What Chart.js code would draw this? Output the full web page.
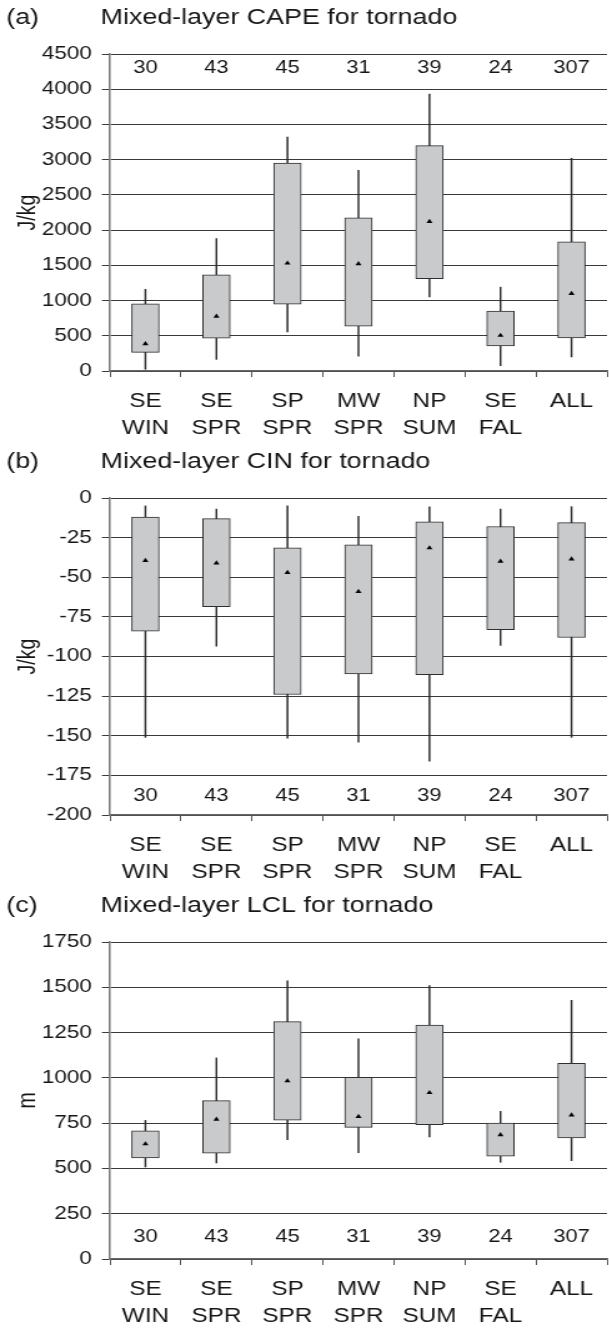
<!DOCTYPE html>
<html>
<head>
<meta charset="utf-8">
<script src="https://cdn.jsdelivr.net/npm/chart.js@4.4.1/dist/chart.umd.min.js"></script>
<style>
  html, body { margin: 0; padding: 0; background: #fff; overflow: hidden; width: 609px; height: 1328px; }
  canvas { position: absolute; left: 0; display: block; }
</style>
</head>
<body>
<!-- the figure is a little wider than tall in its lettering, so each canvas is stretched sideways -->
<canvas id="capeChart" width="490" height="444" style="top:0px;width:612px;height:444px"></canvas>
<canvas id="cinChart" width="490" height="444" style="top:444px;width:612px;height:444px"></canvas>
<canvas id="lclChart" width="490" height="440" style="top:888px;width:612px;height:440px"></canvas>
<script>
const categories = [['SE', 'WIN'], ['SE', 'SPR'], ['SP', 'SPR'], ['MW', 'SPR'], ['NP', 'SUM'], ['SE', 'FAL'], ['ALL']];
const counts = [30, 43, 45, 31, 39, 24, 307];

// Mixed-layer CAPE (J/kg)
const capeMin  = [25, 165, 555, 210, 1050, 75, 200];
const capeQ1   = [265, 465, 950, 635, 1310, 355, 470];
const capeQ3   = [955, 1365, 2950, 2175, 3200, 850, 1835];
const capeMax  = [1160, 1880, 3320, 2850, 3930, 1190, 3020];
const capeMean = [385, 775, 1530, 1520, 2120, 505, 1100];

// Mixed-layer CIN (J/kg)
const cinMin  = [-151, -93.5, -151.5, -154, -166, -93, -151];
const cinQ1   = [-84, -68.5, -124, -111, -111.5, -83, -88];
const cinQ3   = [-12, -13, -31.5, -29.5, -15, -18, -15.5];
const cinMax  = [-5, -7, -5, -11.5, -5.5, -7, -5.5];
const cinMean = [-39.5, -41, -47, -59, -31.5, -40, -38.5];

// Mixed-layer LCL (m)
const lclMin  = [508, 530, 659, 587, 674, 534, 543];
const lclQ1   = [558, 584, 766, 727, 742, 567, 668];
const lclQ3   = [708, 874, 1310, 1003, 1292, 751, 1080];
const lclMax  = [765, 1110, 1535, 1215, 1509, 815, 1428];
const lclMean = [635, 771, 983, 786, 918, 685, 795];

const FONT = '"Liberation Sans", Arial, Helvetica, sans-serif';
const INK = '#161616';

// panel letter, title and sample sizes, placed through the chart scales
const panelText = {
  id: 'panelText',
  afterDraw(chart, args, opts) {
    const { ctx, scales: { x, y } } = chart;
    ctx.save();
    ctx.fillStyle = INK;
    ctx.textBaseline = 'middle';
    ctx.textAlign = 'center';
    ctx.font = '17.5px ' + FONT;
    counts.forEach((n, i) => {
      ctx.fillText(String(n), x.getPixelForValue(i), y.getPixelForValue(opts.countAt));
    });
    ctx.textAlign = 'left';
    ctx.font = '21.5px ' + FONT;
    ctx.fillText(opts.tag, 5, 18);
    ctx.fillText(opts.title, 80.5, 18);
    ctx.restore();
  }
};

function boxPanel(id, p) {
  const canvas = document.getElementById(id);
  const h = canvas.height;
  new Chart(canvas, {
    type: 'bar',
    data: {
      labels: categories,
      datasets: [
        {
          type: 'line',
          data: p.mean,
          showLine: false,
          pointStyle: 'triangle',
          pointRadius: 2.8,
          pointBackgroundColor: '#000',
          pointBorderWidth: 0,
          order: 0
        },
        {
          data: p.q1.map((v, i) => [v, p.q3[i]]),
          backgroundColor: '#c9cacc',
          borderColor: '#2e2e2e',
          borderWidth: 1,
          borderSkipped: false,
          barThickness: 22,
          grouped: false,
          order: 1
        },
        {
          data: p.min.map((v, i) => [v, p.max[i]]),
          backgroundColor: '#2a2a2a',
          borderWidth: 0,
          barThickness: 0.8,
          grouped: false,
          order: 2
        }
      ]
    },
    options: {
      responsive: false,
      animation: false,
      devicePixelRatio: 1,
      layout: { padding: { top: 54, left: 0, right: 0, bottom: 0 } },
      plugins: {
        legend: { display: false },
        tooltip: { enabled: false },
        title: { display: false },
        panelText: { tag: p.tag, title: p.title, countAt: p.countAt }
      },
      scales: {
        x: {
          type: 'category',
          offset: true,
          grid: { offset: true, drawOnChartArea: false, drawTicks: true, tickLength: 6, color: '#555' },
          border: { color: '#666', width: 1.5 },
          ticks: {
            color: INK,
            font: { family: FONT, size: 19.5, lineHeight: 1.34 },
            padding: 12,
            maxRotation: 0,
            autoSkip: false
          },
          afterFit(scale) { scale.height = h - 371; }
        },
        y: {
          min: p.yMin,
          max: p.yMax,
          grid: { color: '#3a3a3a', lineWidth: 1, tickLength: 6.4 },
          border: { color: '#777', width: 1.5 },
          ticks: {
            stepSize: p.step,
            color: INK,
            font: { family: FONT, size: 18 },
            padding: 8,
            callback: (v) => String(v)
          },
          title: {
            display: true,
            text: p.unit,
            color: INK,
            font: { family: FONT, size: 19.5 },
            padding: { top: 11, bottom: 0 }
          },
          afterFit(scale) { scale.width = 88; }
        }
      }
    },
    plugins: [panelText]
  });
}

boxPanel('capeChart', {
  tag: '(a)', title: 'Mixed-layer CAPE for tornado', unit: 'J/kg',
  yMin: 0, yMax: 4500, step: 500, countAt: 4300,
  min: capeMin, q1: capeQ1, q3: capeQ3, max: capeMax, mean: capeMean
});

boxPanel('cinChart', {
  tag: '(b)', title: 'Mixed-layer CIN for tornado', unit: 'J/kg',
  yMin: -200, yMax: 0, step: 25, countAt: -188,
  min: cinMin, q1: cinQ1, q3: cinQ3, max: cinMax, mean: cinMean
});

boxPanel('lclChart', {
  tag: '(c)', title: 'Mixed-layer LCL for tornado', unit: 'm',
  yMin: 0, yMax: 1750, step: 250, countAt: 120,
  min: lclMin, q1: lclQ1, q3: lclQ3, max: lclMax, mean: lclMean
});
</script>
</body>
</html>
